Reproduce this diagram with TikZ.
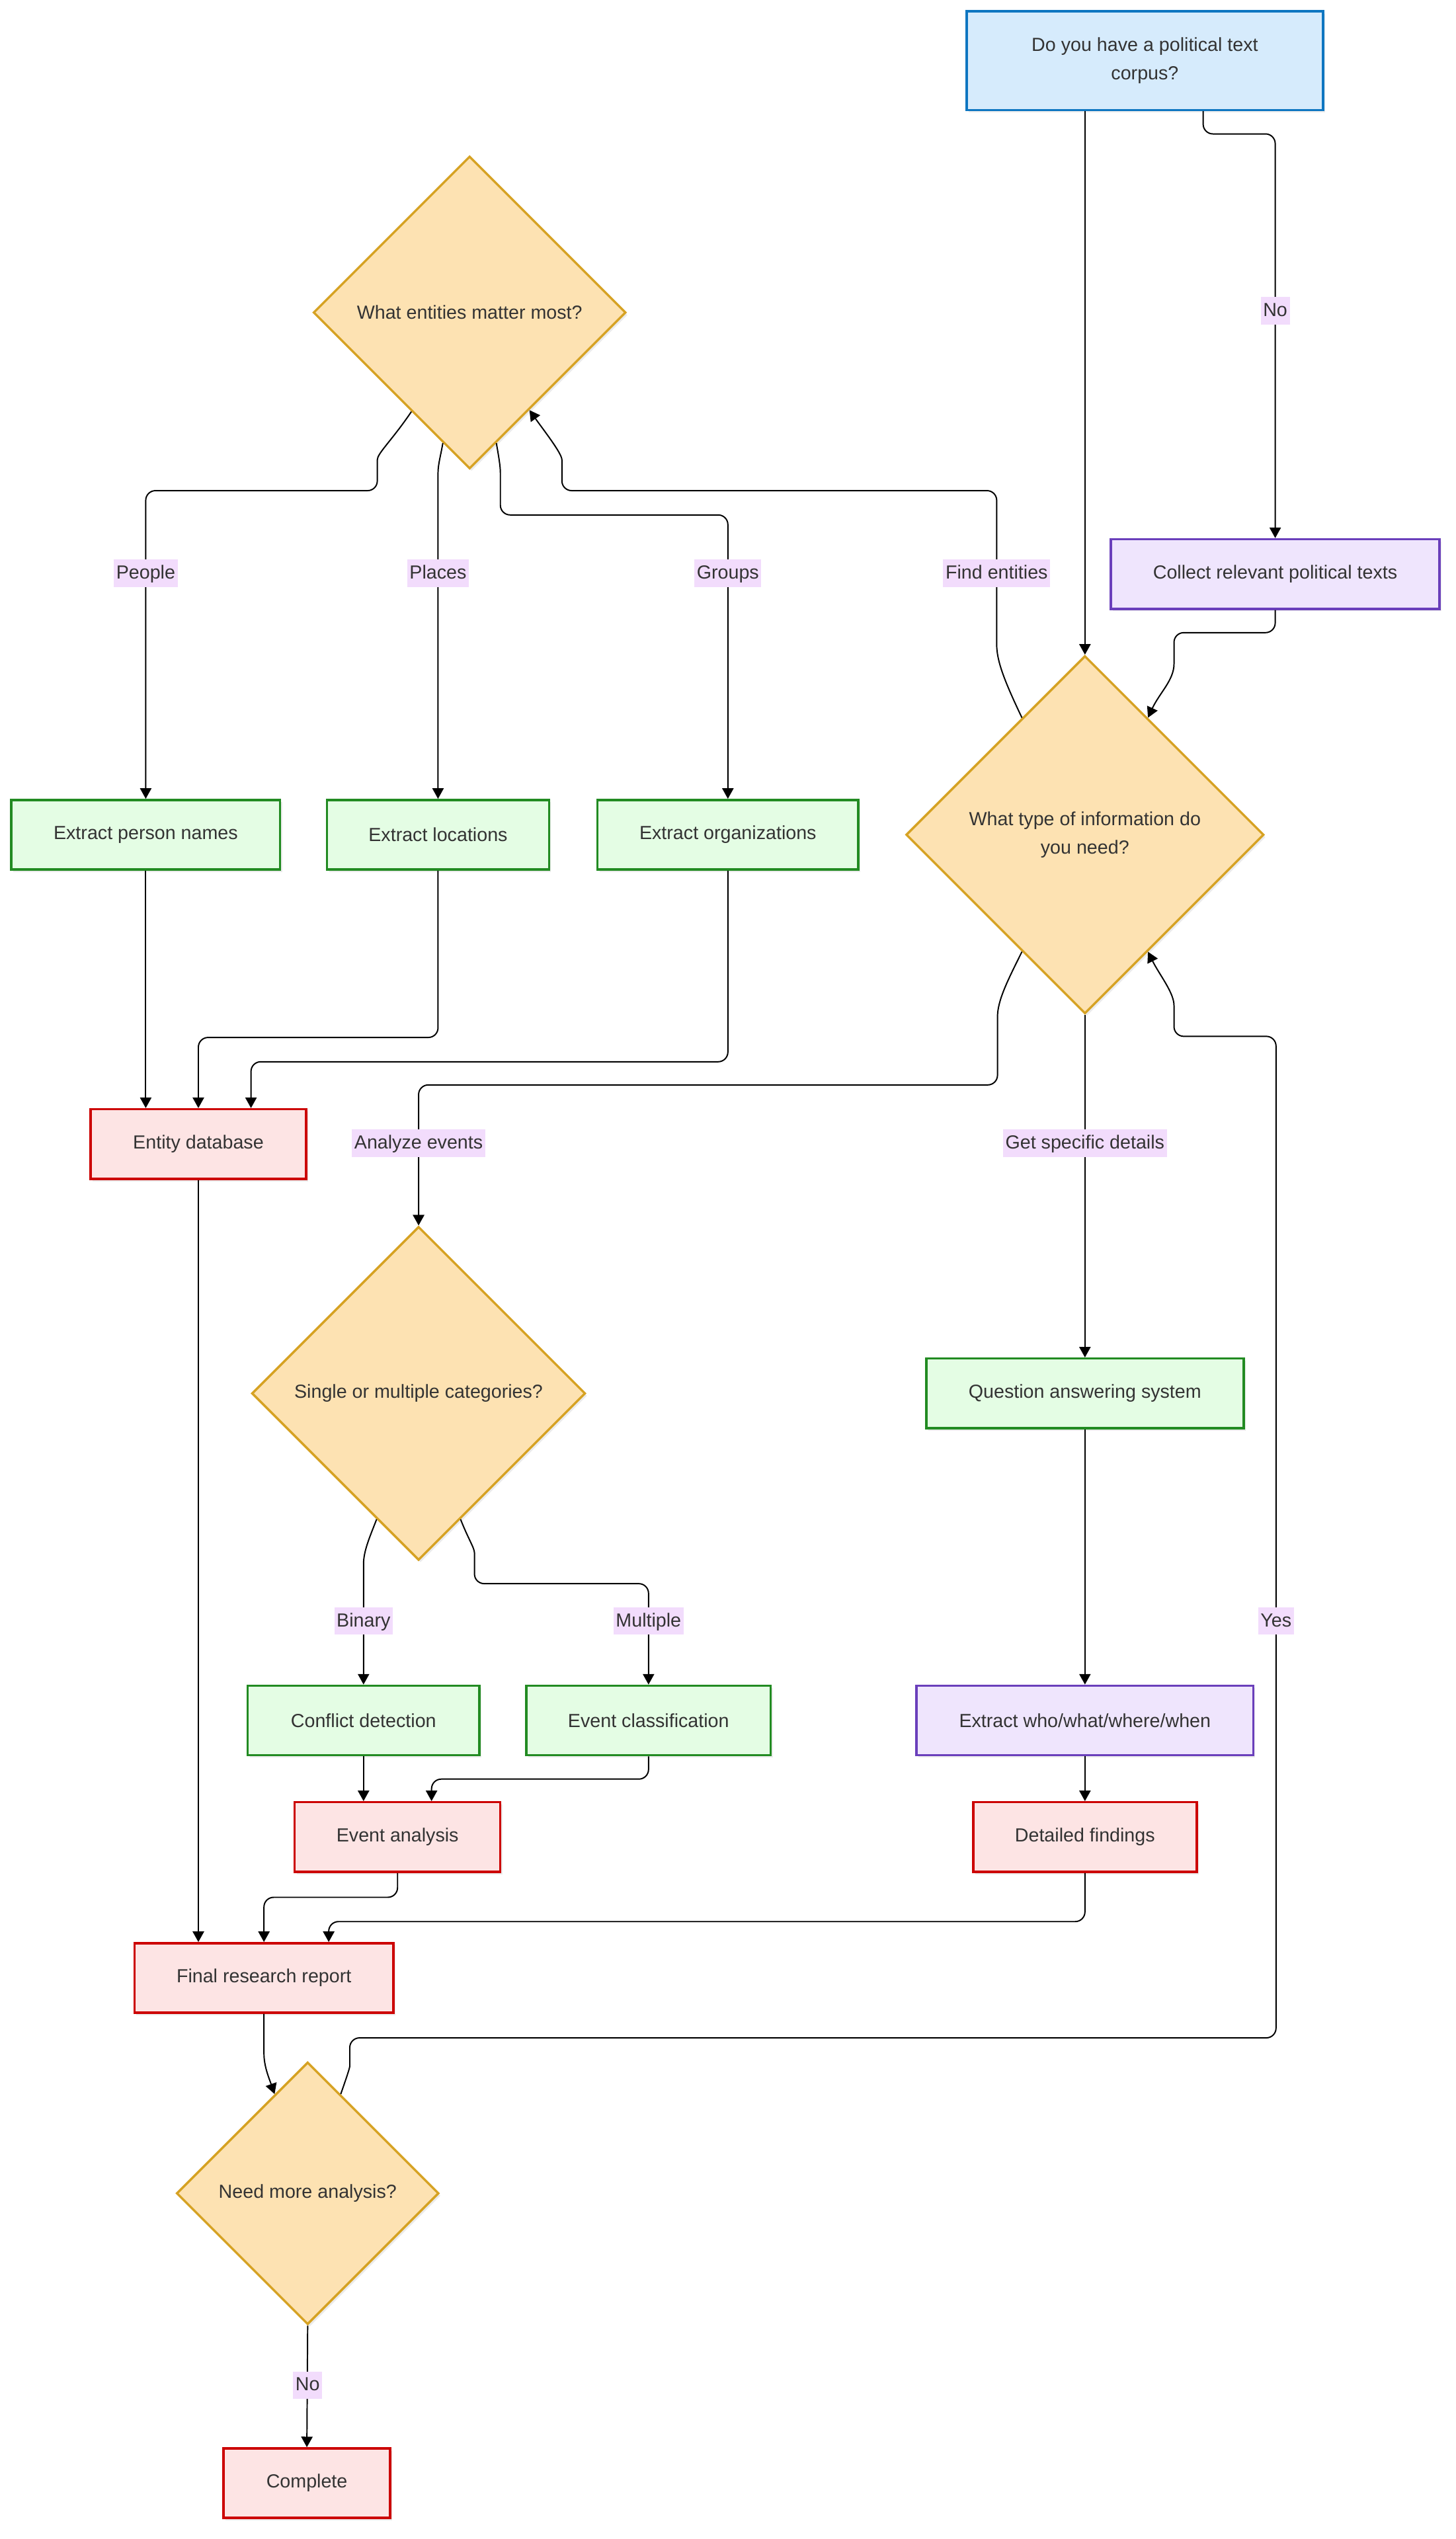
\documentclass[tikz,border=0pt]{standalone}
\usepackage{fontspec}
\setmainfont{Liberation Sans}
\usetikzlibrary{shapes.geometric,arrows.meta,calc,shadows}
\definecolor{txtgray}{HTML}{333333}
\definecolor{startfill}{HTML}{D6EBFC}
\definecolor{startline}{HTML}{0E76C1}
\definecolor{taskfill}{HTML}{E4FDE4}
\definecolor{taskline}{HTML}{228B22}
\definecolor{resfill}{HTML}{FDE4E4}
\definecolor{resline}{HTML}{CC0000}
\definecolor{collfill}{HTML}{EFE5FD}
\definecolor{collline}{HTML}{6A3FBB}
\definecolor{decfill}{HTML}{FDE2B2}
\definecolor{decline}{HTML}{D6A223}
\definecolor{lblfill}{HTML}{F2DCFC}
\begin{document}
\begin{tikzpicture}[x=1pt,y=-1pt,
  font=\fontsize{11.7}{17.5}\selectfont, text=txtgray,
  shade/.style={drop shadow={opacity=0.16,shadow xshift=1.2pt,shadow yshift=-1.5pt}},
  box/.style={draw, line width=1.4pt, minimum height=43pt, inner sep=0pt, shade},
  startbox/.style={box, fill=startfill, draw=startline},
  task/.style={box, fill=taskfill, draw=taskline},
  result/.style={box, fill=resfill, draw=resline},
  collbox/.style={box, fill=collfill, draw=collline},
  decision/.style={diamond, aspect=1, draw=decline, fill=decfill, line width=1.4pt, inner sep=0pt, shade},
  flow/.style={draw=black, line width=0.8pt, rounded corners=6pt, -{Triangle[length=6.5pt,width=7pt]}},
  lbl/.style={fill=lblfill, inner xsep=1.5pt, inner ysep=2.5pt, text height=9.5pt, text depth=2.5pt}]
\useasboundingbox (0,0) rectangle (899,1568);

\node[startbox, minimum width=220pt, minimum height=61pt, align=center] (corpus) at (707,37.5) {Do you have a political text\\corpus?};
\node[collbox, minimum width=203pt] (collect) at (787.5,354.5) {Collect relevant political texts};
\node[decision, minimum size=193pt] (entities) at (290,193) {What entities matter most?};
\node[decision, minimum size=221pt, align=center] (infotype) at (670,515.5) {What type of information do\\you need?};
\node[task, minimum width=166pt] (persons) at (90,515.5) {Extract person names};
\node[task, minimum width=137pt] (locations) at (270.5,515.5) {Extract locations};
\node[task, minimum width=161pt] (orgs) at (449.5,515.5) {Extract organizations};
\node[result, minimum width=133pt] (entitydb) at (122.5,706.5) {Entity database};
\node[decision, minimum size=206pt] (categories) at (258.5,860.5) {Single or multiple categories?};
\node[task, minimum width=196pt] (qa) at (670,860.5) {Question answering system};
\node[task, minimum width=143pt] (conflict) at (224.5,1062.5) {Conflict detection};
\node[task, minimum width=151pt] (eventclass) at (400.5,1062.5) {Event classification};
\node[collbox, minimum width=208pt] (fivew) at (670,1062.5) {Extract who/what/where/when};
\node[result, minimum width=127pt] (eventan) at (245.5,1134.5) {Event analysis};
\node[result, minimum width=138pt] (findings) at (670,1134.5) {Detailed findings};
\node[result, minimum width=160pt] (report) at (163,1221.5) {Final research report};
\node[decision, minimum size=162pt] (more) at (190,1354.5) {Need more analysis?};
\node[result, minimum width=103pt] (complete) at (189.5,1533.5) {Complete};

\draw[flow] (corpus.south -| infotype.north) -- (infotype.north);
\draw[flow] ($(corpus.south)+(36,0)$) -- ++(0,14) -| (collect.north);
\draw[flow] (collect.south) -- ++(0,14) -| (725,404) .. controls (725,420) and (716,428) .. ($(infotype.north)!0.35!(infotype.east)$);
\draw[flow] ($(infotype.north)!0.35!(infotype.west)$) .. controls (620,420) and (615.5,408) .. (615.5,392) -- (615.5,303) -| (347,290) .. controls (347,280) and (336,266) .. ($(entities.south)!0.38!(entities.east)$);
\draw[flow] ($(entities.south)!0.37!(entities.west)$) .. controls (242,272) and (233,280) .. (233,290) -- (233,303) -| (persons.north);
\draw[flow] ($(entities.south)!0.17!(entities.west)$) .. controls (272,282) and (270.5,287) .. (270.5,298) -- (locations.north);
\draw[flow] ($(entities.south)!0.17!(entities.east)$) .. controls (308,282) and (309,288) .. (309,298) -- (309,318) -| (orgs.north);
\draw[flow] ($(infotype.south)!0.35!(infotype.west)$) .. controls (622,606) and (616,618) .. (616,634) -- (616,670) -| (categories.north);
\draw[flow] (infotype.south) -- (qa.north);
\draw[flow] (persons.south) -- (persons.south |- entitydb.north);
\draw[flow] (locations.south) -- ++(0,103) -| (entitydb.north);
\draw[flow] (orgs.south) -- ++(0,118) -| ($(entitydb.north)+(32.5,0)$);
\draw[flow] ($(categories.south)!0.25!(categories.west)$) .. controls (228,950) and (224.5,958) .. (224.5,972) -- (conflict.north);
\draw[flow] ($(categories.south)!0.25!(categories.east)$) .. controls (289,950) and (293,956) .. (293,965) -- (293,978) -| (eventclass.north);
\draw[flow] (qa.south) -- (fivew.north);
\draw[flow] (conflict.south) -- (eventan.north -| conflict.south);
\draw[flow] (eventclass.south) -- ++(0,14) -| ($(eventan.north)+(21,0)$);
\draw[flow] (fivew.south) -- (findings.north);
\draw[flow] (entitydb.south) -- (entitydb.south |- report.north);
\draw[flow] (eventan.south) -- ++(0,15) -| (report.north);
\draw[flow] (findings.south) -- ++(0,30) -| ($(report.north)+(40,0)$);
\draw[flow] (report.south) -- (163,1262) .. controls (163,1276) and (166,1283) .. ($(more.north)!0.25!(more.west)$);
\draw[flow] ($(more.north)!0.25!(more.east)$) .. controls (214,1283) and (216,1277) .. (216,1270) -- (216,1258.5) -| (788,640) -| (725,627) .. controls (725,613) and (716,602) .. ($(infotype.south)!0.35!(infotype.east)$);
\draw[flow] (more.south) -- (complete.north);

\node[lbl] (lnocorpus) at (787.5,192) {No};
\node[lbl] (lfind) at (615.5,354) {Find entities};
\node[lbl] (lpeople) at (90,354) {People};
\node[lbl] (lplaces) at (270.5,354) {Places};
\node[lbl] (lgroups) at (449.5,354) {Groups};
\node[lbl] (lanalyze) at (258.5,706) {Analyze events};
\node[lbl] (ldetails) at (670,706) {Get specific details};
\node[lbl] (lbinary) at (224.5,1001) {Binary};
\node[lbl] (lmultiple) at (400.5,1001) {Multiple};
\node[lbl] (lyes) at (788,1001) {Yes};
\node[lbl] (lnomore) at (190,1473) {No};
\end{tikzpicture}
\end{document}
